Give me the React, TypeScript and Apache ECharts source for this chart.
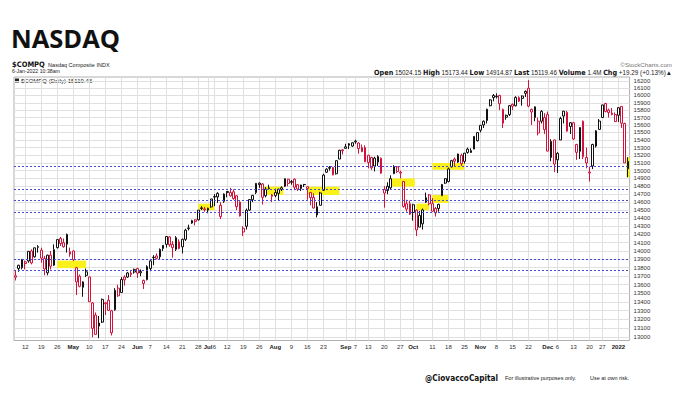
import React, { useEffect, useRef } from "react";
import * as echarts from "echarts";

const dates = [
  "2021-04-07","2021-04-08","2021-04-09","2021-04-12","2021-04-13","2021-04-14","2021-04-15","2021-04-16","2021-04-19","2021-04-20",
  "2021-04-21","2021-04-22","2021-04-23","2021-04-26","2021-04-27","2021-04-28","2021-04-29","2021-04-30","2021-05-03","2021-05-04",
  "2021-05-05","2021-05-06","2021-05-07","2021-05-10","2021-05-11","2021-05-12","2021-05-13","2021-05-14","2021-05-17","2021-05-18",
  "2021-05-19","2021-05-20","2021-05-21","2021-05-24","2021-05-25","2021-05-26","2021-05-27","2021-05-28","2021-06-01","2021-06-02",
  "2021-06-03","2021-06-04","2021-06-07","2021-06-08","2021-06-09","2021-06-10","2021-06-11","2021-06-14","2021-06-15","2021-06-16",
  "2021-06-17","2021-06-18","2021-06-21","2021-06-22","2021-06-23","2021-06-24","2021-06-25","2021-06-28","2021-06-29","2021-06-30",
  "2021-07-01","2021-07-02","2021-07-06","2021-07-07","2021-07-08","2021-07-09","2021-07-12","2021-07-13","2021-07-14","2021-07-15",
  "2021-07-16","2021-07-19","2021-07-20","2021-07-21","2021-07-22","2021-07-23","2021-07-26","2021-07-27","2021-07-28","2021-07-29",
  "2021-07-30","2021-08-02","2021-08-03","2021-08-04","2021-08-05","2021-08-06","2021-08-09","2021-08-10","2021-08-11","2021-08-12",
  "2021-08-13","2021-08-16","2021-08-17","2021-08-18","2021-08-19","2021-08-20","2021-08-23","2021-08-24","2021-08-25","2021-08-26",
  "2021-08-27","2021-08-30","2021-08-31","2021-09-01","2021-09-02","2021-09-03","2021-09-07","2021-09-08","2021-09-09","2021-09-10",
  "2021-09-13","2021-09-14","2021-09-15","2021-09-16","2021-09-17","2021-09-20","2021-09-21","2021-09-22","2021-09-23","2021-09-24",
  "2021-09-27","2021-09-28","2021-09-29","2021-09-30","2021-10-01","2021-10-04","2021-10-05","2021-10-06","2021-10-07","2021-10-08",
  "2021-10-11","2021-10-12","2021-10-13","2021-10-14","2021-10-15","2021-10-18","2021-10-19","2021-10-20","2021-10-21","2021-10-22",
  "2021-10-25","2021-10-26","2021-10-27","2021-10-28","2021-10-29","2021-11-01","2021-11-02","2021-11-03","2021-11-04","2021-11-05",
  "2021-11-08","2021-11-09","2021-11-10","2021-11-11","2021-11-12","2021-11-15","2021-11-16","2021-11-17","2021-11-18","2021-11-19",
  "2021-11-22","2021-11-23","2021-11-24","2021-11-26","2021-11-29","2021-11-30","2021-12-01","2021-12-02","2021-12-03","2021-12-06",
  "2021-12-07","2021-12-08","2021-12-09","2021-12-10","2021-12-13","2021-12-14","2021-12-15","2021-12-16","2021-12-17","2021-12-20",
  "2021-12-21","2021-12-22","2021-12-23","2021-12-27","2021-12-28","2021-12-29","2021-12-30","2021-12-31","2022-01-03","2022-01-04",
  "2022-01-05","2022-01-06"
];

const opens = [
  13705,13790,13800,13870,13880,14000,13930,14045,14010,13910,
  13740,13950,13830,14040,14150,14100,14200,13990,14000,13800,
  13700,13570,13710,13690,13100,13250,13160,13170,13390,13420,
  13050,13310,13560,13510,13690,13690,13720,13780,13790,13740,
  13650,13660,13790,13920,13940,13930,14030,14080,14170,14080,
  14020,14110,14050,14140,14280,14340,14380,14380,14520,14515,
  14500,14540,14670,14710,14420,14610,14720,14720,14730,14680,
  14600,14230,14300,14500,14630,14720,14820,14830,14680,14770,
  14690,14720,14710,14760,14800,14890,14850,14890,14820,14770,
  14820,14770,14720,14660,14440,14560,14750,14980,15030,15040,
  14960,15150,15270,15290,15350,15320,15385,15360,15300,15300,
  15200,15170,15060,15110,15160,14760,14800,14780,14960,14990,
  14980,14860,14580,14580,14470,14500,14290,14330,14600,14690,
  14580,14520,14520,14680,14840,14860,15050,15150,15110,15200,
  15120,15280,15260,15280,15390,15530,15600,15660,15860,16000,
  15990,16000,15810,15730,15740,15880,15860,15970,15960,16030,
  16100,15810,15700,15650,15650,15700,15740,15170,15400,15140,
  15400,15720,15770,15580,15630,15340,15250,15650,15100,14970,
  15060,15320,15540,15700,15890,15800,15760,15740,15730,15850,
  15620,15024.15
];

const highs = [
  13770,13835,13900,13885,14000,14020,14040,14070,14040,13940,
  13955,14000,14080,14140,14170,14150,14211,14040,14010,13810,
  13720,13640,13790,13695,13400,13280,13240,13440,13400,13480,
  13310,13560,13600,13690,13710,13750,13770,13790,13800,13780,
  13660,13830,13890,13950,13970,14030,14070,14180,14180,14120,
  14180,14140,14150,14270,14320,14380,14385,14500,14550,14540,
  14530,14640,14700,14725,14600,14710,14740,14780,14760,14685,
  14610,14300,14520,14635,14690,14840,14850,14840,14790,14820,
  14700,14770,14770,14800,14900,14895,14880,14900,14830,14820,
  14830,14800,14730,14710,14600,14730,14960,15030,15060,15050,
  15130,15270,15280,15350,15360,15370,15404,15370,15340,15330,
  15205,15180,15180,15200,15170,14800,14850,14940,15070,15060,
  15000,14865,14630,14620,14580,14510,14490,14520,14720,14700,
  14650,14540,14580,14830,14900,15040,15140,15170,15220,15220,
  15230,15300,15290,15450,15500,15600,15660,15820,15950,16020,
  16030,16010,15820,15740,15870,15890,15990,15990,16000,16070,
  16212,15820,15850,15700,15800,15760,15780,15410,15405,15240,
  15710,15790,15790,15640,15640,15350,15570,15660,15300,15050,
  15350,15530,15680,15870,15900,15820,15830,15770,15840,15855,
  15630,15173.44
];

const lows = [
  13650,13752,13780,13780,13860,13840,13920,13980,13860,13710,
  13710,13780,13820,14030,14060,14040,13980,13930,13880,13480,
  13570,13460,13690,13400,13000,13030,12990,13160,13250,13300,
  13020,13300,13460,13510,13590,13680,13690,13730,13680,13700,
  13550,13650,13760,13830,13900,13900,14000,14040,14050,13920,
  14000,14020,13970,14120,14250,14330,14310,14370,14500,14480,
  14460,14530,14550,14590,14390,14590,14660,14670,14630,14500,
  14420,14180,14260,14490,14600,14700,14780,14570,14660,14760,
  14600,14660,14620,14740,14790,14800,14820,14750,14740,14740,
  14790,14630,14560,14520,14410,14560,14740,14970,15000,14940,
  14950,15150,15210,15290,15280,15310,15350,15220,15240,15110,
  15030,15010,14990,15060,14960,14530,14700,14760,14960,14970,
  14900,14530,14480,14440,14370,14180,14290,14260,14590,14560,
  14480,14420,14480,14680,14830,14850,15040,15060,15100,15060,
  15090,15220,15230,15280,15380,15500,15560,15620,15850,15920,
  15960,15800,15560,15670,15720,15800,15850,15910,15860,15980,
  15840,15600,15650,15460,15620,15480,15250,15120,14980,14970,
  15400,15620,15510,15480,15400,15140,15150,15150,15030,14860,
  15020,15300,15540,15700,15770,15700,15730,15640,15640,15560,
  15100,14914.87
];

const closes = [
  13688,13829,13900,13850,13996,13857,14038,14052,13914,13786,
  13950,13818,14016,14138,14090,14051,14082,13962,13895,13633,
  13582,13633,13752,13402,13389,13032,13125,13430,13379,13303,
  13299,13535,13471,13661,13657,13738,13736,13749,13736,13756,
  13615,13814,13881,13925,13911,14020,14069,14175,14073,14040,
  14161,14030,14141,14253,14272,14370,14360,14500,14528,14504,
  14523,14640,14663,14665,14560,14701,14734,14678,14645,14543,
  14427,14275,14499,14632,14685,14837,14840,14660,14763,14779,
  14673,14681,14762,14781,14896,14836,14860,14788,14765,14816,
  14823,14794,14657,14526,14542,14715,14943,15019,15042,14946,
  15129,15265,15259,15310,15331,15364,15374,15287,15248,15115,
  15105,15037,15162,15182,14969,14714,14747,14897,15052,15048,
  14970,14546,14513,14449,14567,14255,14434,14502,14655,14580,
  14486,14465,14572,14823,14897,15022,15129,15122,15216,15090,
  15227,15236,15236,15448,15498,15595,15650,15812,15940,15971,
  15982,15887,15623,15704,15861,15853,15974,15922,15993,16057,
  15854,15775,15845,15492,15783,15538,15254,15381,15085,15225,
  15687,15786,15518,15630,15413,15237,15566,15181,15170,14981,
  15341,15522,15653,15871,15782,15767,15741,15645,15833,15623,
  15100,15119.46
];

const previousClose = 13698;

const yTicks = [
  13000,13100,13200,13300,13400,13500,13600,13700,13800,13900,
  14000,14100,14200,14300,14400,14500,14600,14700,14800,14900,
  15000,15100,15200,15300,15400,15500,15600,15700,15800,15900,
  16000,16100,16200
];

const tickDates = [
  "2021-04-12","2021-04-19","2021-04-26","2021-05-03","2021-05-10","2021-05-17","2021-05-24","2021-06-01","2021-06-07","2021-06-14",
  "2021-06-21","2021-06-28","2021-07-01","2021-07-06","2021-07-12","2021-07-19","2021-07-26","2021-08-02","2021-08-09","2021-08-16",
  "2021-08-23","2021-09-01","2021-09-07","2021-09-13","2021-09-20","2021-09-27","2021-10-01","2021-10-11","2021-10-18","2021-10-25",
  "2021-11-01","2021-11-08","2021-11-15","2021-11-22","2021-12-01","2021-12-06","2021-12-13","2021-12-20","2021-12-27","2022-01-03"
];
const tickTexts = [
  "12","19","26","May","10","17","24","Jun","7","14",
  "21","28","Jul","6","12","19","26","Aug","9","16",
  "23","Sep","7","13","20","27","Oct","11","18","25",
  "Nov","8","15","22","Dec","6","13","20","27","2022"
];
const boldTicks = ["May","Jun","Jul","Aug","Sep","Oct","Nov","Dec","2022"];

const levelLines = [15015, 14820, 14715, 14578, 14497, 13885, 13790];

const zoneFrom = ["2021-04-26","2021-06-28","2021-07-27","2021-08-16","2021-09-22","2021-10-04","2021-10-11","2021-10-11","2022-01-06"];
const zoneTo   = ["2021-05-07","2021-07-06","2021-08-04","2021-08-30","2021-10-01","2021-10-08","2021-10-18","2021-10-25","2022-01-06"];
const zoneLow  = [13795, 14500, 14690, 14690, 14795, 14497, 14590, 15010, 14914.87];
const zoneHigh = [13885, 14580, 14795, 14795, 14900, 14580, 14690, 15100, 15173.44];
const zonePad  = [0, 0, 0.5, 0, 0.5, 0, 0, 0, 0.5];

const RED = "#d0143c";
const BLACK = "#111111";
const FONT = '"Liberation Sans", Arial, sans-serif';
const NARROW = '"Liberation Sans Narrow", "DejaVu Sans Condensed", "Liberation Sans", sans-serif';

export default function App() {
  const ref = useRef<HTMLDivElement | null>(null);

  useEffect(() => {
    if (!ref.current) return;
    const chart = echarts.init(ref.current, undefined, { renderer: "svg" });
    const N = dates.length;
    const ln = Math.log;
    const idx = (d: string) => dates.indexOf(d);

    const candleData = dates.map((_, i) => {
      const prev = i > 0 ? closes[i - 1] : previousClose;
      const col = closes[i] >= prev ? BLACK : RED;
      return {
        value: [ln(opens[i]), ln(closes[i]), ln(lows[i]), ln(highs[i])],
        itemStyle: { color: "#ffffff", color0: col, borderColor: col, borderColor0: col, borderWidth: 1 },
      };
    });

    const tickIdx = tickDates.map(idx);
    const tickMap: Record<number, string> = {};
    tickIdx.forEach((v, i) => (tickMap[v] = tickTexts[i]));
    const yVals = yTicks.map(ln);

    const zones = zoneFrom.map((f, i) => [
      { xAxis: idx(f) - zonePad[i], yAxis: ln(zoneHigh[i]) },
      { xAxis: idx(zoneTo[i]) + zonePad[i], yAxis: ln(zoneLow[i]) },
    ]);

    const option: any = {
      animation: false,
      backgroundColor: "#ffffff",
      grid: {
        left: 14, right: 50.4, top: 77, bottom: 67.5,
        show: true, borderColor: "#b0b0b0", borderWidth: 1, backgroundColor: "transparent",
      },
      xAxis: [
        { type: "category", data: dates, boundaryGap: true, show: false },
        {
          type: "value", min: -0.5, max: N - 0.5, position: "bottom",
          axisLine: { show: false },
          axisTick: { show: false, customValues: tickIdx },
          splitLine: { show: true, lineStyle: { color: "#e0e0e0", width: 1 } },
          axisLabel: {
            customValues: tickIdx, fontSize: 6, color: "#333", margin: 3, fontFamily: FONT,
            formatter: (v: number) => {
              const t = tickMap[Math.round(v)] || "";
              return boldTicks.indexOf(t) >= 0 ? "{b|" + t + "}" : t;
            },
            rich: { b: { fontWeight: "bold", fontSize: 6, color: "#222", fontFamily: FONT } },
          },
        },
      ],
      yAxis: {
        type: "value", position: "right",
        min: ln(12964), max: ln(16256),
        axisLine: { show: false },
        axisTick: { show: false, customValues: yVals },
        splitLine: { show: true, lineStyle: { color: "#e0e0e0", width: 1 } },
        axisLabel: {
          customValues: yVals, fontSize: 6, color: "#333", margin: 4, fontFamily: FONT,
          formatter: (v: number) => String(Math.round(Math.exp(v))),
        },
      },
      series: [
        {
          type: "scatter", xAxisIndex: 1, yAxisIndex: 0, data: [], symbolSize: 0, silent: true, z: 1,
          markArea: { silent: true, itemStyle: { color: "#fbf11a", opacity: 1 }, data: zones },
        },
        {
          type: "candlestick", xAxisIndex: 0, yAxisIndex: 0, data: candleData, barWidth: "70%", z: 3,
          markLine: {
            silent: true, symbol: ["none", "none"], label: { show: false },
            lineStyle: { color: "#4848d0", type: [2, 2], width: 1 },
            data: levelLines.map((p) => ({ yAxis: ln(p) })),
          },
        },
      ],
      graphic: [
        { type: "text", left: 11, top: 25, style: { text: "NASDAQ", fontSize: 25.5, fontWeight: "bold", fontFamily: '"Open Sans", "Liberation Sans", sans-serif', fill: "#111" } },
        {
          type: "text", left: 12, top: 58.5,
          style: {
            text: "{a|$COMPQ} {c|Nasdaq Composite INDX}",
            rich: {
              a: { fontSize: 7.5, lineHeight: 8, fontWeight: "bold", fontFamily: NARROW, fill: "#111" },
              c: { fontSize: 5.5, lineHeight: 8, fontFamily: FONT, fill: "#222" },
            },
          },
        },
        { type: "text", left: 12, top: 68, style: { text: "6-Jan-2022 10:38am", fontSize: 5.2, lineHeight: 6, fontFamily: FONT, fill: "#222" } },
        { type: "text", right: 8, top: 61, style: { text: "©StockCharts.com", fontSize: 6.2, fontFamily: FONT, fill: "#777" } },
        {
          type: "text", right: 8, top: 69,
          style: {
            text: "{b|Open} 15024.15 {b|High} 15173.44 {b|Low} 14914.87 {b|Last} 15119.46 {b|Volume} 1.4M {b|Chg} +19.29 (+0.13%)▲",
            fontSize: 6.3, fontFamily: FONT, fill: "#222",
            rich: { b: { fontSize: 7.2, fontWeight: "bold", fontFamily: NARROW, fill: "#111" } },
          },
        },
        { type: "rect", left: 15, top: 78.5, shape: { width: 4, height: 4 }, style: { fill: "#222" } },
        { type: "text", left: 21, top: 78, style: { text: "$COMPQ (Daily) 15119.46", fontSize: 6, fontFamily: FONT, fill: "#222" } },
        { type: "text", left: 425, top: 373.5, style: { text: "@CiovaccoCapital", fontSize: 8.2, fontWeight: "bold", fontFamily: NARROW, fill: "#111" } },
        { type: "text", left: 505, top: 375, style: { text: "For illustrative purposes only.", fontSize: 5.5, fontFamily: FONT, fill: "#222" } },
        { type: "text", left: 590, top: 375, style: { text: "Use at own risk.", fontSize: 5.5, fontFamily: FONT, fill: "#222" } },
      ],
    };

    chart.setOption(option);
    return () => chart.dispose();
  }, []);

  return (
    <div
      ref={ref}
      style={{ position: "fixed", left: 0, top: 0, width: 680, height: 408, background: "#ffffff" }}
    />
  );
}
